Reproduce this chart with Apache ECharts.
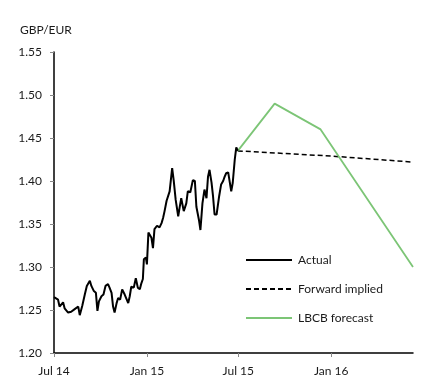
<!DOCTYPE html>
<html><head><meta charset="utf-8">
<script src="https://cdn.jsdelivr.net/npm/echarts@6/dist/echarts.min.js"></script>
<style>html,body{margin:0;padding:0;background:#fff}#c{width:443px;height:389px}</style>
</head><body><div id="c"></div>
<script>
// Actual GBP/EUR (date, value)
const actualDates = ['2014-07-01','2014-07-09','2014-07-12','2014-07-19','2014-07-22','2014-07-29','2014-08-04','2014-08-11','2014-08-18','2014-08-21','2014-08-26','2014-08-31','2014-09-04','2014-09-10','2014-09-13','2014-09-18','2014-09-22','2014-09-25','2014-09-28','2014-10-03','2014-10-07','2014-10-11','2014-10-16','2014-10-19','2014-10-23','2014-10-26','2014-10-29','2014-11-02','2014-11-05','2014-11-09','2014-11-13','2014-11-18','2014-11-21','2014-11-25','2014-11-28','2014-12-01','2014-12-06','2014-12-10','2014-12-14','2014-12-18','2014-12-21','2014-12-24','2014-12-26','2014-12-30','2015-01-01','2015-01-04','2015-01-06','2015-01-10','2015-01-13','2015-01-16','2015-01-21','2015-01-26','2015-01-30','2015-02-02','2015-02-05','2015-02-09','2015-02-12','2015-02-15','2015-02-20','2015-02-23','2015-02-27','2015-03-04','2015-03-07','2015-03-10','2015-03-15','2015-03-20','2015-03-23','2015-03-28','2015-04-02','2015-04-06','2015-04-09','2015-04-14','2015-04-17','2015-04-21','2015-04-25','2015-04-29','2015-05-02','2015-05-05','2015-05-09','2015-05-12','2015-05-15','2015-05-19','2015-05-24','2015-05-28','2015-06-01','2015-06-04','2015-06-07','2015-06-11','2015-06-14','2015-06-17','2015-06-20','2015-06-24','2015-06-27','2015-06-30'];
const actualValues = [1.265,1.262,1.254,1.259,1.252,1.247,1.248,1.251,1.254,1.244,1.255,1.268,1.278,1.284,1.278,1.272,1.270,1.249,1.260,1.266,1.268,1.278,1.280,1.276,1.270,1.254,1.247,1.258,1.264,1.262,1.274,1.268,1.266,1.258,1.266,1.277,1.276,1.287,1.276,1.274,1.281,1.286,1.309,1.311,1.303,1.340,1.342,1.334,1.322,1.344,1.348,1.346,1.351,1.357,1.365,1.377,1.375,1.388,1.415,1.401,1.378,1.359,1.370,1.380,1.365,1.374,1.388,1.387,1.401,1.400,1.370,1.355,1.343,1.374,1.390,1.380,1.405,1.413,1.398,1.382,1.361,1.361,1.382,1.396,1.400,1.405,1.409,1.410,1.409,1.388,1.398,1.425,1.439,1.435];
// Forward implied
const forwardDates = ['2015-06-30','2015-12-31','2016-06-11'];
const forwardValues = [1.435,1.429,1.422];
// LBCB forecast
const lbcbDates = ['2015-06-30','2015-09-11','2015-12-11','2016-06-11'];
const lbcbValues = [1.435,1.490,1.460,1.300];
// Axis ticks
const xTickDates = ['2014-07-01','2015-01-01','2015-07-01','2016-01-01'];
const xTickLabels = ['Jul 14','Jan 15','Jul 15','Jan 16'];
const xEnd = '2016-06-11';

const base = Date.UTC(2014,6,1);
function day(s){const p=s.split('-');return Math.round((Date.UTC(+p[0],+p[1]-1,+p[2])-base)/86400000);}
function pairs(d,v){return d.map((x,i)=>[day(x),v[i]]);}
const tickDays = xTickDates.map(day);
const font = 'Lato, "Open Sans", sans-serif';
const txt = '#1a1a1a';

const chart = echarts.init(document.getElementById('c'));
chart.setOption({
  animation:false,
  backgroundColor:'#fff',
  grid:{left:54,right:30,top:52,bottom:36,containLabel:false},
  graphic:[{type:'text',left:20,top:24,style:{text:'GBP/EUR',font:'12px '+font,fill:txt}}],
  legend:{
    orient:'vertical',left:240,top:249,itemWidth:46,itemHeight:14,itemGap:17,
    data:['Actual','Forward implied','LBCB forecast'],
    itemStyle:{opacity:0,borderWidth:0},
    textStyle:{fontFamily:font,fontSize:12,color:txt,padding:[0,0,0,1]}
  },
  xAxis:{
    type:'value',min:0,max:day(xEnd),
    axisLine:{lineStyle:{color:'#000',width:1.5}},
    axisTick:{show:true,length:4,lineStyle:{color:'#888'},customValues:tickDays},
    axisLabel:{margin:12,fontFamily:font,fontSize:12,color:txt,customValues:tickDays,
      formatter:v=>{const i=tickDays.indexOf(v);return i>=0?xTickLabels[i]:'';}},
    splitLine:{show:false}
  },
  yAxis:{
    type:'value',min:1.2,max:1.55,interval:0.05,
    axisLine:{show:true,lineStyle:{color:'#000',width:1.5}},
    axisTick:{show:true,length:4,lineStyle:{color:'#888'}},
    axisLabel:{margin:12,fontFamily:font,fontSize:12,color:txt,formatter:v=>v.toFixed(2)},
    splitLine:{show:false}
  },
  series:[
    {name:'Forward implied',type:'line',data:pairs(forwardDates,forwardValues),symbol:'none',
      lineStyle:{color:'#000',width:1.5,type:[5,3]},itemStyle:{color:'#000'},z:2},
    {name:'LBCB forecast',type:'line',data:pairs(lbcbDates,lbcbValues),symbol:'none',
      lineStyle:{color:'#7cc576',width:1.8},itemStyle:{color:'#7cc576'},z:3},
    {name:'Actual',type:'line',data:pairs(actualDates,actualValues),symbol:'none',
      lineStyle:{color:'#000',width:2},itemStyle:{color:'#000'},z:4}
  ]
});
</script></body></html>
